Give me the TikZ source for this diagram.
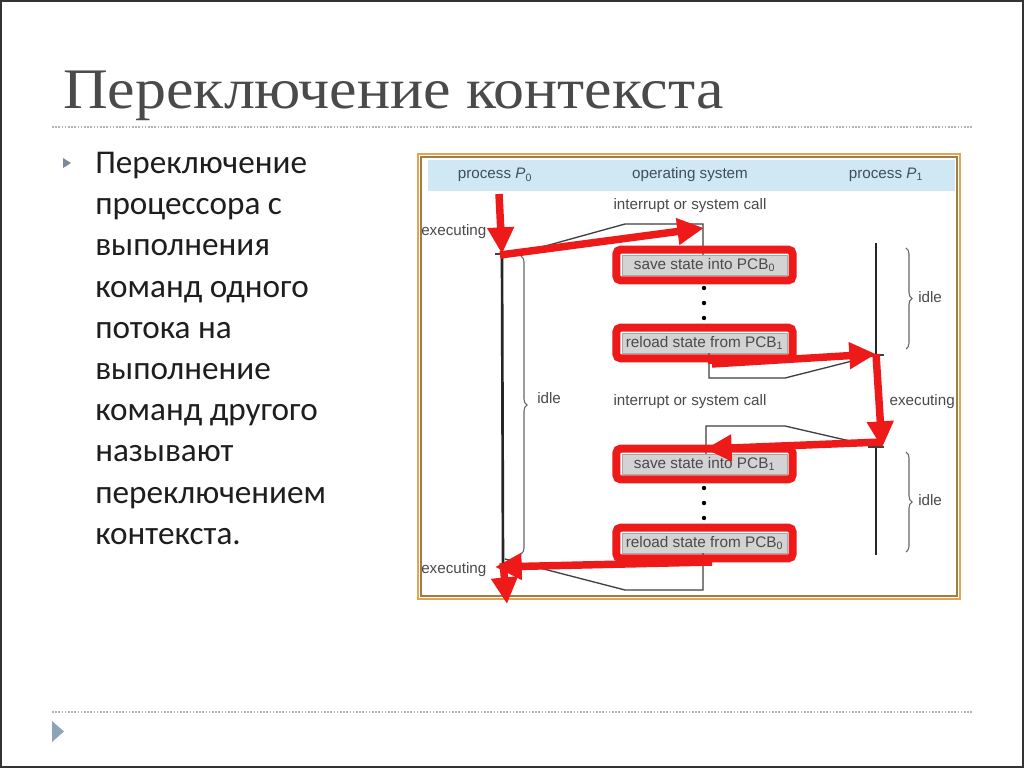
\documentclass[tikz,border=0pt]{standalone}
\usepackage{fontspec}
\setmainfont{Liberation Serif}
\newfontfamily\bodyfont{Carlito}
\newfontfamily\diafont{Liberation Sans}
\usetikzlibrary{arrows.meta,decorations.pathreplacing,fit}
\definecolor{redA}{HTML}{EE1A1A}
\definecolor{titlegray}{HTML}{4A4A4A}
\definecolor{bodyblack}{HTML}{1E1E1E}
\definecolor{dotgray}{HTML}{B4B4B4}
\definecolor{bulletblue}{HTML}{8FA3B6}
\definecolor{headblue}{HTML}{CFE8F4}
\definecolor{headtext}{HTML}{3F4F5C}
\definecolor{diatext}{HTML}{4A4A4A}
\definecolor{boxgray}{HTML}{D3D3D3}
\definecolor{frameout}{HTML}{E2A552}
\definecolor{framein}{HTML}{A57A45}
\tikzset{
  dotline/.style={draw=dotgray, line width=1.1pt, dash pattern=on 1.2pt off 1.2pt},
  diatxt/.style={font=\diafont\fontsize{11.4}{13}\selectfont, text=diatext, inner sep=0},
  headtxt/.style={font=\diafont\fontsize{11.4}{13}\selectfont, text=headtext, inner sep=0},
  graybox/.style={fill=boxgray, draw=boxgray!80!black, line width=0.3pt, minimum width=123.75pt, minimum height=15pt, inner sep=0, font=\diafont\fontsize{11.5}{13}\selectfont, text=diatext},
  redframe/.style={draw=redA, line width=6pt, rounded corners=3pt, inner xsep=4pt, inner ysep=3.8pt},
  redarrow/.style={draw=redA, line width=5.6pt, -{Triangle[length=20pt,width=19pt]}},
  timeline/.style={draw=black!85, line width=2pt},
  thinline/.style={draw=black!75, line width=1pt},
  bracestyle/.style={draw=black!60, line width=0.8pt, decorate, decoration={brace, amplitude=4.5pt}},
}
\begin{document}
\begin{tikzpicture}[x=0.75pt,y=-0.75pt]
\useasboundingbox (0,0) rectangle (1024,768);
\fill[white] (0,0) rectangle (1024,768);
\draw[draw=black!80, line width=1.5pt] (1,1) rectangle (1023,767);

% title
\node[anchor=base west, inner sep=0, text=titlegray, font=\fontsize{43}{50}\selectfont] (title) at (63,108) {\scalebox{1.08}[1]{Переключение контекста}};
\draw[dotline] (52,127) -- (972,127);
\draw[dotline] (52,712) -- (972,712);
\fill[bulletblue] (52,721) -- (64,731.5) -- (52,742) -- cycle;

% body text
\fill[bulletblue!85!black] (63,158) -- (71,163) -- (63,168) -- cycle;
\node[anchor=north west, inner sep=0, align=left, text=bodyblack, font=\bodyfont\fontsize{24.9}{30.9}\selectfont] (body) at (95,152)
{Переключение\\процессора с\\выполнения\\команд одного\\потока на\\выполнение\\команд другого\\называют\\переключением\\контекста.};

% diagram frame
\fill[white] (417,153) rectangle (961,600);
\draw[draw=frameout, line width=1.6pt] (418,154) rectangle (960,599);
\draw[draw=framein, line width=0.9pt] (421,157) rectangle (957,596);
\fill[headblue] (428,160) rectangle (955,191);

\node[headtxt] (hp0) at (495,175) {process \textit{P}\textsubscript{0}};
\node[headtxt] (hos) at (690,175) {operating system};
\node[headtxt] (hp1) at (886,175) {process \textit{P}\textsubscript{1}};

\node[diatxt] (int1) at (690,206) {interrupt or system call};
\node[diatxt] (int2) at (690,402) {interrupt or system call};
\node[diatxt, anchor=west] (ex1) at (421,232) {executing};
\node[diatxt, anchor=east] (ex2) at (955,402) {executing};
\node[diatxt, anchor=west] (ex3) at (421,570) {executing};
\node[diatxt, anchor=west] (idle0) at (537,398) {idle};
\node[diatxt, anchor=west] (idle1) at (918,297) {idle};
\node[diatxt, anchor=west] (idle2) at (918,500) {idle};

% timelines
\coordinate (p0t) at (502,254);
\coordinate (p0b) at (503,567);
\coordinate (p1t) at (876,243);
\coordinate (p1m) at (876,355);
\coordinate (p1n) at (876,447);
\coordinate (p1b) at (876,555);
\draw[timeline] (p0t) -- (p0b);
\draw[timeline] (p1t) -- (p1m);
\draw[timeline] (p1n) -- (p1b);
\draw[thinline] (495,254) -- (509,254);
\draw[thinline] (868,355) -- (884,355);
\draw[thinline] (868,447) -- (884,447);

% braces
\draw[bracestyle] (521,256) -- (521,554);
\draw[bracestyle] (906,248) -- (906,349);
\draw[bracestyle] (906,452) -- (906,552);

% OS boxes
\node[graybox] (b1) at (704.5,265) {save state into PCB\textsubscript{0}};
\node[graybox] (b2) at (704.5,343) {reload state from PCB\textsubscript{1}};
\node[graybox] (b3) at (704.5,464) {save state into PCB\textsubscript{1}};
\node[graybox] (b4) at (704.5,543) {reload state from PCB\textsubscript{0}};
\foreach \yy in {288,303,318,488,503,518} \fill[black] (704,\yy) circle (2.2);

% thin connector shapes
\coordinate (c1a) at (625,224);
\coordinate (c1b) at (703,224);
\draw[thinline] (502,258) -- (c1a) -- (c1b) -- (b1.north -| c1b);
\coordinate (c2a) at (709,378);
\coordinate (c2b) at (785,378);
\draw[thinline] (b2.south -| c2a) -- (c2a) -- (c2b) -- (p1m);
\coordinate (c3a) at (706,426);
\coordinate (c3b) at (785,426);
\draw[thinline] (b3.north -| c3a) -- (c3a) -- (c3b) -- (p1n);
\coordinate (c4a) at (703,590);
\coordinate (c4b) at (625,590);
\draw[thinline] (b4.south -| c4a) -- (c4a) -- (c4b) -- (505,559);

% red highlights
\node[redframe, fit=(b1)] (r1) {};
\node[redframe, fit=(b2)] (r2) {};
\node[redframe, fit=(b3)] (r3) {};
\node[redframe, fit=(b4)] (r4) {};

% red arrows
\coordinate (a1s) at (499,194);
\coordinate (a2s) at (500,255);
\coordinate (a2e) at (704,228);
\coordinate (a3s) at (712,358);
\coordinate (a3e) at (876,354);
\coordinate (a4e) at (882,448);
\coordinate (a5s) at (882,442);
\coordinate (a5e) at (705,449);
\coordinate (a6s) at (712,562);
\coordinate (a6e) at (495,567);
\coordinate (a7s) at (503,563);
\coordinate (a7e) at (507,604);
\draw[redarrow] (a1s) -- (p0t);
\draw[redarrow] (a2s) -- (a2e);
\draw[draw=redA, line width=5.6pt] (a3s) -- (712,364);
\draw[redarrow] (712,364) -- (a3e);
\draw[redarrow] (a3e) -- (a4e);
\draw[redarrow] (a5s) -- (a5e);
\draw[redarrow] (a6s) -- (a6e);
\draw[redarrow] (a7s) -- (a7e);
\end{tikzpicture}
\end{document}
